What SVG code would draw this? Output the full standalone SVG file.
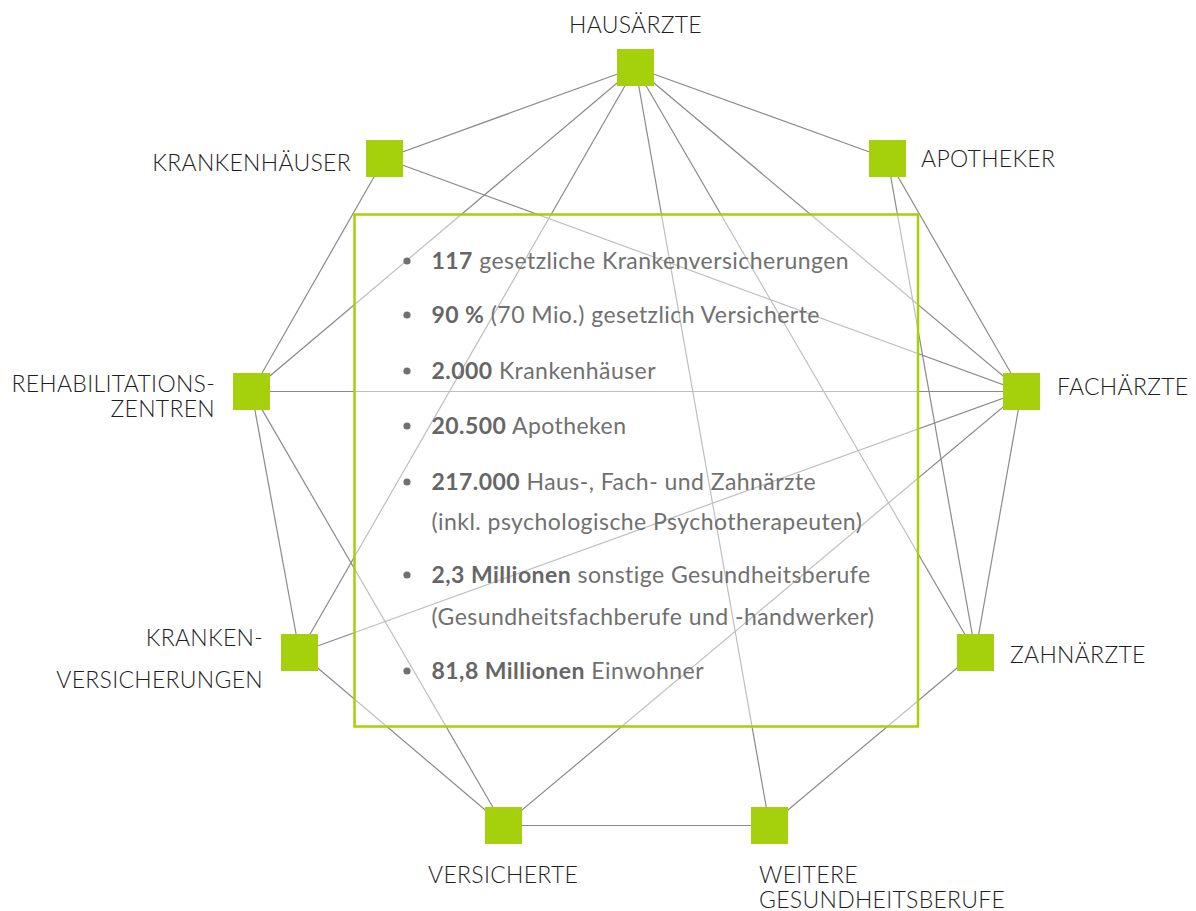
<svg xmlns="http://www.w3.org/2000/svg" width="1196" height="911" viewBox="0 0 1196 911">
<style>
.edge{stroke:#8a8a8a;stroke-width:1.2;fill:none}
.sq{fill:#a4d10c}
.lbl{font-family:Lato,"Open Sans","Liberation Sans",sans-serif;font-size:23px;font-weight:300;letter-spacing:0.3px;fill:#1e1e1e}
.body{font-family:Lato,"Open Sans","Liberation Sans",sans-serif;font-size:23px;letter-spacing:0.45px;fill:#707070}
.b{font-weight:700;fill:#666}
.dot{fill:#707070}
</style>
<rect width="1196" height="911" fill="#fff"/>
<g id="connectors">
<line class="edge" x1="635.5" y1="67.5" x2="384.5" y2="158.5"/>
<line class="edge" x1="635.5" y1="67.5" x2="887.5" y2="158.5"/>
<line class="edge" x1="635.5" y1="67.5" x2="251.5" y2="391.5"/>
<line class="edge" x1="635.5" y1="67.5" x2="299.5" y2="652.5"/>
<line class="edge" x1="635.5" y1="67.5" x2="769.5" y2="825.5"/>
<line class="edge" x1="635.5" y1="67.5" x2="975.5" y2="652.5"/>
<line class="edge" x1="635.5" y1="67.5" x2="1021.5" y2="391.5"/>
<line class="edge" x1="887.5" y1="158.5" x2="1021.5" y2="391.5"/>
<line class="edge" x1="887.5" y1="158.5" x2="975.5" y2="652.5"/>
<line class="edge" x1="384.5" y1="158.5" x2="251.5" y2="391.5"/>
<line class="edge" x1="384.5" y1="158.5" x2="1021.5" y2="391.5"/>
<line class="edge" x1="251.5" y1="391.5" x2="1021.5" y2="391.5"/>
<line class="edge" x1="251.5" y1="391.5" x2="299.5" y2="652.5"/>
<line class="edge" x1="251.5" y1="391.5" x2="503.5" y2="825.5"/>
<line class="edge" x1="1021.5" y1="391.5" x2="299.5" y2="652.5"/>
<line class="edge" x1="1021.5" y1="391.5" x2="503.5" y2="825.5"/>
<line class="edge" x1="1021.5" y1="391.5" x2="975.5" y2="652.5"/>
<line class="edge" x1="299.5" y1="652.5" x2="503.5" y2="825.5"/>
<line class="edge" x1="975.5" y1="652.5" x2="769.5" y2="825.5"/>
<line class="edge" x1="503.5" y1="825.5" x2="769.5" y2="825.5"/>
</g>
<g id="infobox">
<rect x="354.5" y="214.5" width="563.5" height="512" fill="#fff" fill-opacity="0.45" stroke="#a4d10c" stroke-width="2.5"/>
<circle class="dot" cx="407" cy="261" r="3.6"/>
<text class="body" x="431.5" y="269"><tspan class="b">117</tspan> gesetzliche Krankenversicherungen</text>
<circle class="dot" cx="407" cy="315" r="3.6"/>
<text class="body" x="431.5" y="323"><tspan class="b">90 %</tspan> (70 Mio.) gesetzlich Versicherte</text>
<circle class="dot" cx="407" cy="371" r="3.6"/>
<text class="body" x="431.5" y="379"><tspan class="b">2.000</tspan> Krankenhäuser</text>
<circle class="dot" cx="407" cy="426" r="3.6"/>
<text class="body" x="431.5" y="434"><tspan class="b">20.500</tspan> Apotheken</text>
<circle class="dot" cx="407" cy="482" r="3.6"/>
<text class="body" x="431.5" y="490"><tspan class="b">217.000</tspan> Haus-, Fach- und Zahnärzte</text>
<text class="body" x="431.5" y="530">(inkl. psychologische Psychotherapeuten)</text>
<circle class="dot" cx="407" cy="575" r="3.6"/>
<text class="body" x="431.5" y="583"><tspan class="b">2,3 Millionen</tspan> sonstige Gesundheitsberufe</text>
<text class="body" x="431.5" y="625">(Gesundheitsfachberufe und -handwerker)</text>
<circle class="dot" cx="407" cy="671" r="3.6"/>
<text class="body" x="431.5" y="679"><tspan class="b">81,8 Millionen</tspan> Einwohner</text>
</g>
<g id="hausaerzte"><rect class="sq" x="617" y="49" width="37" height="37"/><text class="lbl" x="635.5" y="33" text-anchor="middle">HAUSÄRZTE</text></g>
<g id="apotheker"><rect class="sq" x="869" y="140" width="37" height="37"/><text class="lbl" x="921" y="167">APOTHEKER</text></g>
<g id="krankenhaeuser"><rect class="sq" x="366" y="140" width="37" height="37"/><text class="lbl" x="351" y="171" text-anchor="end">KRANKENHÄUSER</text></g>
<g id="reha"><rect class="sq" x="233" y="373" width="37" height="37"/><text class="lbl" x="215" y="392" text-anchor="end">REHABILITATIONS-</text><text class="lbl" x="215" y="417" text-anchor="end">ZENTREN</text></g>
<g id="fachaerzte"><rect class="sq" x="1003" y="373" width="37" height="37"/><text class="lbl" x="1057" y="395">FACHÄRZTE</text></g>
<g id="krankenversicherungen"><rect class="sq" x="281" y="634" width="37" height="37"/><text class="lbl" x="263" y="646" text-anchor="end">KRANKEN-</text><text class="lbl" x="263" y="688" text-anchor="end">VERSICHERUNGEN</text></g>
<g id="zahnaerzte"><rect class="sq" x="957" y="634" width="37" height="37"/><text class="lbl" x="1010" y="663">ZAHNÄRZTE</text></g>
<g id="versicherte"><rect class="sq" x="485" y="807" width="37" height="37"/><text class="lbl" x="428" y="883">VERSICHERTE</text></g>
<g id="weitere"><rect class="sq" x="751" y="807" width="37" height="37"/><text class="lbl" x="759" y="883">WEITERE</text><text class="lbl" x="759" y="908">GESUNDHEITSBERUFE</text></g>
</svg>
